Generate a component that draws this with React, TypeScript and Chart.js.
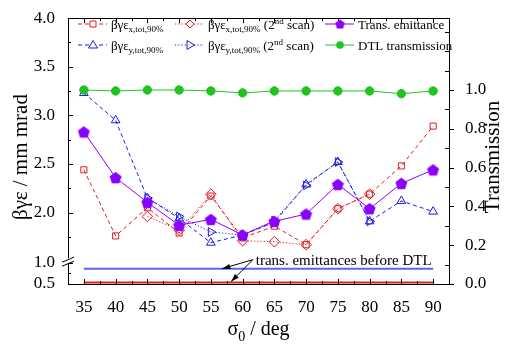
import React, { useEffect, useRef } from 'react';
import { Chart, registerables } from 'chart.js';
Chart.register(...registerables);

// ---------- data ----------
const sigma0 = [35, 40, 45, 50, 55, 60, 65, 70, 75, 80, 85, 90];
const epsX = [2.44, 1.76, 2.05, 1.79, 2.17, 1.74, 1.86, 1.67, 2.04, 2.19, 2.48, 2.89];
const epsY = [3.23, 2.95, 2.15, 1.94, 1.69, 1.77, 1.9, 2.29, 2.52, 1.91, 2.12, 2.01];
const sigma0Scan2 = [45, 50, 55, 60, 65, 70, 75, 80];
const epsX2 = [1.96, 1.82, 2.19, 1.71, 1.7, 1.67, 2.04, 2.19];
const epsY2 = [2.15, 1.96, 1.8, 1.77, 1.92, 2.28, 2.52, 1.91];
const transEmittance = [2.83, 2.36, 2.105, 1.87, 1.93, 1.77, 1.91, 1.985, 2.29, 2.04, 2.3, 2.44];
const dtlTransmission = [1.0, 0.995, 1.0, 1.0, 0.995, 0.985, 0.995, 0.995, 0.995, 0.995, 0.981, 0.995];
const beforeDtlX = 0.535;
const beforeDtlY = 0.86;

const xTicks = [35, 40, 45, 50, 55, 60, 65, 70, 75, 80, 85, 90];
const yUpperTicks = [2.0, 2.5, 3.0, 3.5, 4.0];
const yLowerTicks = [0.5, 1.0];
const yRightTicks = [0, 0.2, 0.4, 0.6, 0.8, 1.0];

const RED = '#e21c1c';
const BLUE = '#1c1ce0';
const PURPLE = '#8a00ff';
const GREEN = '#1fc41f';
const LOWBLUE = '#6262ee';
const FONT = "'Liberation Serif', 'Times New Roman', serif";

const DASH = [4, 3];
const DOT = [1.2, 2];

function pts(xs: number[], ys: number[]) {
  return xs.map((x, i) => ({ x, y: ys[i] }));
}

function makePentagon(color: string, r: number) {
  const size = Math.ceil(r * 2 + 2);
  const c = document.createElement('canvas');
  c.width = size;
  c.height = size;
  const g = c.getContext('2d')!;
  g.fillStyle = color;
  g.beginPath();
  for (let i = 0; i < 5; i++) {
    const a = -Math.PI / 2 + (i * 2 * Math.PI) / 5;
    const px = size / 2 + r * Math.cos(a);
    const py = size / 2 + r * Math.sin(a) + r * 0.1;
    if (i === 0) g.moveTo(px, py);
    else g.lineTo(px, py);
  }
  g.closePath();
  g.fill();
  return c;
}

type Part = { t: string; sub?: boolean; sup?: boolean };

function drawRich(ctx: CanvasRenderingContext2D, x: number, y: number, parts: Part[], size: number, align: 'left' | 'center' = 'left') {
  const small = Math.round(size * 0.68);
  const measure = () => {
    let w = 0;
    for (const p of parts) {
      ctx.font = `${p.sub || p.sup ? small : size}px ${FONT}`;
      w += ctx.measureText(p.t).width;
    }
    return w;
  };
  let cx = align === 'center' ? x - measure() / 2 : x;
  ctx.textBaseline = 'alphabetic';
  ctx.textAlign = 'left';
  for (const p of parts) {
    const s = p.sub || p.sup ? small : size;
    ctx.font = `${s}px ${FONT}`;
    const dy = p.sub ? size * 0.28 : p.sup ? -size * 0.38 : 0;
    ctx.fillText(p.t, cx, y + dy);
    cx += ctx.measureText(p.t).width;
  }
}

function drawMarker(ctx: CanvasRenderingContext2D, kind: string, x: number, y: number, color: string, pent: HTMLCanvasElement) {
  ctx.save();
  ctx.setLineDash([]);
  ctx.strokeStyle = color;
  ctx.fillStyle = color;
  ctx.lineWidth = 1;
  ctx.beginPath();
  if (kind === 'rect') {
    ctx.fillStyle = '#fff';
    ctx.rect(x - 3, y - 3, 6, 6);
    ctx.fill();
    ctx.stroke();
  } else if (kind === 'diamond') {
    ctx.fillStyle = '#fff';
    ctx.moveTo(x, y - 4);
    ctx.lineTo(x + 4, y);
    ctx.lineTo(x, y + 4);
    ctx.lineTo(x - 4, y);
    ctx.closePath();
    ctx.fill();
    ctx.stroke();
  } else if (kind === 'tri') {
    ctx.fillStyle = '#fff';
    ctx.moveTo(x, y - 4.5);
    ctx.lineTo(x + 4.5, y + 3);
    ctx.lineTo(x - 4.5, y + 3);
    ctx.closePath();
    ctx.fill();
    ctx.stroke();
  } else if (kind === 'triR') {
    ctx.fillStyle = '#fff';
    ctx.moveTo(x + 4.5, y);
    ctx.lineTo(x - 3, y + 4.5);
    ctx.lineTo(x - 3, y - 4.5);
    ctx.closePath();
    ctx.fill();
    ctx.stroke();
  } else if (kind === 'pent') {
    const w = pent.width * 0.8;
    ctx.drawImage(pent, x - w / 2, y - w / 2, w, w);
  } else if (kind === 'circle') {
    ctx.arc(x, y, 3.8, 0, Math.PI * 2);
    ctx.fill();
  }
  ctx.restore();
}

export default function App() {
  const ref = useRef<HTMLCanvasElement>(null);

  useEffect(() => {
    const pent = makePentagon(PURPLE, 6.3);
    const legendItems = [
      { col: 0, row: 0, color: RED, dash: DASH, marker: 'rect', parts: [{ t: 'βγε' }, { t: 'x,tot,90%', sub: true }] },
      { col: 0, row: 1, color: BLUE, dash: DASH, marker: 'tri', parts: [{ t: 'βγε' }, { t: 'y,tot,90%', sub: true }] },
      { col: 1, row: 0, color: RED, dash: DOT, marker: 'diamond', parts: [{ t: 'βγε' }, { t: 'x,tot,90%', sub: true }, { t: ' (2' }, { t: 'nd', sup: true }, { t: ' scan)' }] },
      { col: 1, row: 1, color: BLUE, dash: DOT, marker: 'triR', parts: [{ t: 'βγε' }, { t: 'y,tot,90%', sub: true }, { t: ' (2' }, { t: 'nd', sup: true }, { t: ' scan)' }] },
      { col: 2, row: 0, color: PURPLE, dash: [], marker: 'pent', parts: [{ t: 'Trans. emittance' }] },
      { col: 2, row: 1, color: GREEN, dash: [], marker: 'circle', parts: [{ t: 'DTL transmission' }] },
    ];
    const colX = [78, 175, 325];
    const rowY = [24, 45];

    const decor = {
      id: 'decor',
      afterDraw(chart: any) {
        const { ctx, chartArea: ca, scales } = chart;
        const xs = scales.x, yU = scales.y, yL = scales.yLow, yR = scales.yR;
        const line = (x1: number, y1: number, x2: number, y2: number) => {
          ctx.beginPath();
          ctx.moveTo(x1, y1);
          ctx.lineTo(x2, y2);
          ctx.stroke();
        };
        ctx.save();
        ctx.strokeStyle = '#000';
        ctx.fillStyle = '#000';
        ctx.lineWidth = 1;
        ctx.setLineDash([]);
        // top border
        line(ca.left, Math.round(ca.top) + 0.5, ca.right, Math.round(ca.top) + 0.5);
        // x ticks (bottom and top, inward)
        for (let v = 35; v <= 90.001; v += 2.5) {
          const px = Math.round(xs.getPixelForValue(v)) + 0.5;
          const len = Math.abs(v % 5) < 1e-6 ? 5 : 3;
          line(px, ca.bottom, px, ca.bottom - len);
          line(px, ca.top, px, ca.top + len);
        }
        // left upper ticks
        for (let v = 1.75; v <= 4.0001; v += 0.25) {
          const py = Math.round(yU.getPixelForValue(v)) + 0.5;
          const major = Math.abs(v * 2 - Math.round(v * 2)) < 1e-6;
          line(ca.left, py, ca.left + (major ? 5 : 3), py);
        }
        // left lower ticks
        for (const v of [0.5, 0.75, 1.0]) {
          const py = Math.round(yL.getPixelForValue(v)) + 0.5;
          line(ca.left, py, ca.left + (v === 0.75 ? 3 : 5), py);
        }
        // right ticks
        for (let k = 0; k <= 13; k++) {
          const v = k / 10;
          const py = Math.round(yR.getPixelForValue(v)) + 0.5;
          if (k % 2 === 0 && k <= 10) line(ca.right, py, ca.right + 5, py);
          else line(ca.right, py, ca.right - 4, py);
        }
        // axis break marks
        const bx = ca.left;
        const by = yL.top;
        ctx.save();
        ctx.strokeStyle = '#fff';
        ctx.lineWidth = 3;
        line(bx, by - 3, bx, by + 2);
        ctx.restore();
        line(bx - 6, by + 1, bx + 6, by - 4);
        line(bx - 6, by + 5, bx + 6, by);

        // axis titles
        ctx.fillStyle = '#000';
        ctx.save();
        ctx.translate(21, 157);
        ctx.rotate(-Math.PI / 2);
        ctx.font = `21px ${FONT}`;
        ctx.textAlign = 'center';
        ctx.textBaseline = 'middle';
        ctx.fillText('βγε / mm mrad', 0, 0);
        ctx.restore();
        ctx.save();
        ctx.translate(493, 157);
        ctx.rotate(-Math.PI / 2);
        ctx.font = `21px ${FONT}`;
        ctx.textAlign = 'center';
        ctx.textBaseline = 'middle';
        ctx.fillText('Transmission', 0, 0);
        ctx.restore();
        drawRich(ctx, (ca.left + ca.right) / 2, 335, [{ t: 'σ' }, { t: '0', sub: true }, { t: ' / deg' }], 20, 'center');

        // legend
        for (const it of legendItems) {
          const x0 = colX[it.col];
          const y0 = rowY[it.row];
          ctx.save();
          ctx.strokeStyle = it.color;
          ctx.lineWidth = 1;
          ctx.setLineDash(it.dash);
          line(x0, y0, x0 + 29, y0);
          ctx.restore();
          drawMarker(ctx, it.marker, x0 + 15, y0, it.color, pent);
          ctx.fillStyle = '#000';
          drawRich(ctx, x0 + 33, y0 + 4.5, it.parts as Part[], 13);
        }

        // annotation
        const sx = xs.getPixelForValue(61.6);
        const sy = yL.getPixelForValue(1.07);
        const tips = [
          [xs.getPixelForValue(56.8), yL.getPixelForValue(beforeDtlY)],
          [xs.getPixelForValue(58.2), yL.getPixelForValue(beforeDtlX) - 1],
        ];
        ctx.strokeStyle = '#000';
        ctx.fillStyle = '#000';
        for (const [tx, ty] of tips) {
          line(sx, sy, tx, ty);
          const ang = Math.atan2(ty - sy, tx - sx);
          const L = 8, W = 2.6;
          ctx.beginPath();
          ctx.moveTo(tx, ty);
          ctx.lineTo(tx - L * Math.cos(ang) + W * Math.sin(ang), ty - L * Math.sin(ang) - W * Math.cos(ang));
          ctx.lineTo(tx - L * Math.cos(ang) - W * Math.sin(ang), ty - L * Math.sin(ang) + W * Math.cos(ang));
          ctx.closePath();
          ctx.fill();
        }
        ctx.font = `15px ${FONT}`;
        ctx.textAlign = 'left';
        ctx.textBaseline = 'middle';
        ctx.fillText('trans. emittances before DTL', sx + 3, sy + 1);
        ctx.restore();
      },
    };

    const tickFont = { family: FONT, size: 17 };
    const chart = new Chart(ref.current!, {
      type: 'line',
      data: {
        datasets: [
          {
            label: 'Trans. emittance', data: pts(sigma0, transEmittance), yAxisID: 'y', order: 0,
            borderColor: PURPLE, borderWidth: 1, pointStyle: pent as any, pointRadius: 6,
          },
          {
            label: 'DTL transmission', data: pts(sigma0, dtlTransmission), yAxisID: 'yR', order: 1,
            borderColor: GREEN, borderWidth: 1, pointStyle: 'circle', pointRadius: 4.2,
            pointBackgroundColor: GREEN, pointBorderColor: GREEN,
          },
          {
            label: 'ex', data: pts(sigma0, epsX), yAxisID: 'y', order: 3,
            borderColor: RED, borderWidth: 1, borderDash: DASH, pointStyle: 'rect', pointRadius: 4.3,
            pointBorderColor: RED, pointBackgroundColor: 'rgba(255,255,255,0)', pointBorderWidth: 1,
          },
          {
            label: 'ex2', data: pts(sigma0Scan2, epsX2), yAxisID: 'y', order: 2,
            borderColor: RED, borderWidth: 1, borderDash: DOT, pointStyle: 'rectRot', pointRadius: 5.3,
            pointBorderColor: RED, pointBackgroundColor: 'rgba(255,255,255,0)', pointBorderWidth: 1,
          },
          {
            label: 'ey', data: pts(sigma0, epsY), yAxisID: 'y', order: 5,
            borderColor: BLUE, borderWidth: 1, borderDash: DASH, pointStyle: 'triangle', pointRadius: 5,
            pointBorderColor: BLUE, pointBackgroundColor: 'rgba(255,255,255,0)', pointBorderWidth: 1,
          },
          {
            label: 'ey2', data: pts(sigma0Scan2, epsY2), yAxisID: 'y', order: 4,
            borderColor: BLUE, borderWidth: 1, borderDash: DOT, pointStyle: 'triangle', pointRotation: 90, pointRadius: 5,
            pointBorderColor: BLUE, pointBackgroundColor: 'rgba(255,255,255,0)', pointBorderWidth: 1,
          },
          {
            label: 'before x', data: sigma0.map((x) => ({ x, y: beforeDtlX })), yAxisID: 'yLow', order: 6,
            borderColor: RED, borderWidth: 2, pointRadius: 0,
          },
          {
            label: 'before y', data: sigma0.map((x) => ({ x, y: beforeDtlY })), yAxisID: 'yLow', order: 6,
            borderColor: LOWBLUE, borderWidth: 2, pointRadius: 0,
          },
        ],
      },
      options: {
        animation: false,
        responsive: true,
        maintainAspectRatio: false,
        layout: { padding: { top: 15, left: 0, right: 0, bottom: 0 } },
        plugins: { legend: { display: false }, tooltip: { enabled: false } },
        scales: {
          x: {
            type: 'linear', min: 32.5, max: 92.5,
            afterBuildTicks: (s: any) => { s.ticks = xTicks.map((v) => ({ value: v })); },
            afterFit: (s: any) => { s.height = 62; },
            grid: { display: false },
            border: { display: true, color: '#000', width: 1 },
            ticks: { font: tickFont, color: '#000', padding: 5, maxRotation: 0, autoSkip: false, callback: (v: any) => String(v) },
          },
          yLow: {
            type: 'linear', position: 'left', stack: 'left', stackWeight: 23, min: 0.5, max: 1.035,
            afterBuildTicks: (s: any) => { s.ticks = yLowerTicks.map((v) => ({ value: v })); },
            afterFit: (s: any) => { s.width = 68; },
            grid: { display: false },
            border: { display: true, color: '#000', width: 1 },
            ticks: { font: tickFont, color: '#000', padding: 5, autoSkip: false, callback: (v: any) => Number(v).toFixed(1) },
          },
          y: {
            type: 'linear', position: 'left', stack: 'left', stackWeight: 245, min: 1.5, max: 4.0,
            afterBuildTicks: (s: any) => { s.ticks = yUpperTicks.map((v) => ({ value: v })); },
            afterFit: (s: any) => { s.width = 68; },
            grid: { display: false },
            border: { display: true, color: '#000', width: 1 },
            ticks: { font: tickFont, color: '#000', padding: 5, autoSkip: false, callback: (v: any) => Number(v).toFixed(1) },
          },
          yR: {
            type: 'linear', position: 'right', min: 0, max: 1.37,
            afterBuildTicks: (s: any) => { s.ticks = yRightTicks.map((v) => ({ value: v })); },
            afterFit: (s: any) => { s.width = 56; },
            grid: { display: false },
            border: { display: true, color: '#000', width: 1 },
            ticks: { font: tickFont, color: '#000', padding: 8, autoSkip: false, callback: (v: any) => Number(v).toFixed(1) },
          },
        },
      },
      plugins: [decor],
    } as any);
    return () => chart.destroy();
  }, []);

  return (
    <div style={{ position: 'fixed', left: 0, top: 0, width: 505, height: 346, background: '#fff' }}>
      <canvas ref={ref} />
    </div>
  );
}
